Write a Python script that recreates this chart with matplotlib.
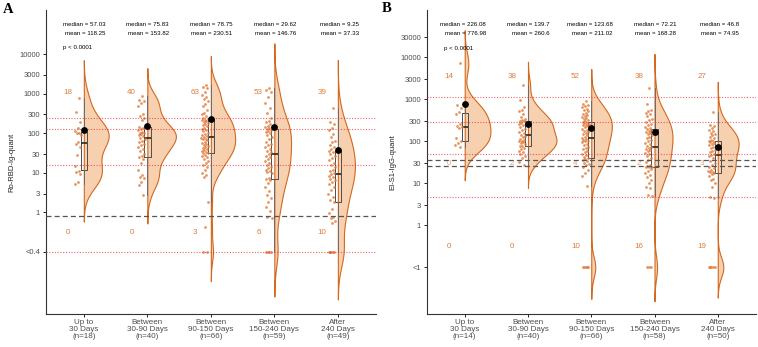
import numpy as np
import matplotlib.pyplot as plt

plt.rcParams['font.family'] = ['Liberation Sans', 'DejaVu Sans']

groups = ["Up to\n30 Days", "Between\n30-90 Days", "Between\n90-150 Days",
          "Between\n150-240 Days", "After\n240 Days"]

# --- Panel A: Ro-RBD-Ig-quant (values under 0.4 are drawn at 0.1) ---
a_n = [18, 40, 66, 59, 49]
a_top_counts = [18, 40, 63, 53, 39]
a_bottom_counts = [0, 0, 3, 6, 10]
a_medians = [57.03, 75.83, 78.75, 29.62, 9.25]
a_means = [118.25, 153.82, 230.51, 146.76, 37.33]
a_g1 = [800, 350, 190, 140, 112, 105, 100, 90, 60, 54, 46, 28, 15, 11, 10.3, 9.2, 6, 5.2]
a_g2 = [870, 700, 640, 600, 500, 300, 280, 250, 220, 145, 140, 130, 120, 110, 105,
        100, 95, 90, 85, 78, 74, 65, 60, 55, 50, 45, 40, 35, 30, 26, 25, 22, 18, 12,
        8.8, 8, 7.4, 6, 5, 2.7]
a_g3 = [1650, 1500, 1400, 1100, 950, 850, 760, 650, 560, 480, 386, 330, 300, 270, 250,
        235, 222, 215, 205, 195, 185, 170, 160, 150, 140, 130, 120, 112, 105, 98, 92,
        86, 81, 77, 74, 70, 66, 62, 58, 55, 52, 49, 46, 43, 40, 38, 36, 34, 32, 31,
        29, 27, 25, 22, 20, 18, 16, 14, 12, 10, 8.7, 8, 1.86, 0.42, 0.1, 0.1]
a_g4 = [1400, 1250, 1100, 850, 600, 450, 320, 240, 210, 190, 170, 155, 145, 135, 128,
        124, 118, 110, 100, 90, 80, 70, 62, 55, 50, 45, 40, 36, 33, 29.6, 27, 25, 22,
        20, 18, 16, 14, 13, 12, 11, 10.5, 9.9, 7.4, 7, 6.6, 5.5, 4.4, 3.5, 2.7, 2.3,
        1.8, 1.4, 1.1, 0.75, 0.72, 0.1, 0.1, 0.1, 0.1]
a_g5 = [450, 190, 170, 140, 120, 95, 80, 65, 60, 50, 45, 40, 36, 34, 30, 27, 24, 21,
        18, 16, 14, 12, 11, 10, 9.25, 8.5, 7.8, 7, 6.6, 6, 5.2, 4.4, 3.6, 3, 2.4, 2,
        1.8, 1.2, 0.94, 0.75, 0.7, 0.6, 0.55, 0.1, 0.1, 0.1, 0.1, 0.1, 0.1]
a_red_lines = [244, 126, 15.7, 0.1]
a_grey_lines = [0.8]
a_ticks = [0.1, 1, 3, 10, 30, 100, 300, 1000, 3000, 10000]
a_tick_labels = ["<0.4", "1", "3", "10", "30", "100", "300", "1000", "3000", "10000"]

# --- Panel B: EI-S1-IgG-quant (values under 1 are drawn at 0.1) ---
b_n = [14, 40, 66, 58, 50]
b_top_counts = [14, 38, 52, 38, 27]
b_mid_counts = [0, 2, 4, 2, 3]
b_bottom_counts = [0, 0, 10, 16, 19]
b_medians = [226.08, 139.7, 123.68, 72.21, 46.8]
b_means = [776.98, 260.6, 211.02, 168.28, 74.95]
b_g1 = [7200, 730, 620, 500, 450, 260, 235, 217, 210, 120, 100, 90, 81, 74]
b_g2 = [2250, 950, 650, 560, 520, 450, 380, 340, 320, 305, 300, 280, 260, 240, 220,
        200, 185, 170, 160, 145, 135, 125, 115, 110, 105, 100, 95, 90, 85, 78, 76, 70,
        65, 60, 55, 50, 45, 40, 32, 27]
b_g3 = [940, 800, 750, 700, 650, 600, 560, 520, 480, 450, 420, 400, 380, 360, 340, 320,
        300, 290, 280, 270, 260, 250, 240, 230, 215, 200, 190, 180, 170, 160, 150, 140,
        128, 120, 115, 110, 105, 100, 95, 88, 80, 75, 70, 65, 60, 55, 50, 47, 43, 40,
        38, 36, 34, 31, 29, 27, 24, 21, 18, 15, 8.6, 0.1, 0.1, 0.1, 0.1, 0.1]
b_g4 = [1900, 800, 560, 520, 485, 450, 400, 350, 320, 290, 260, 240, 220, 205, 196,
        190, 180, 170, 160, 150, 140, 130, 120, 110, 100, 92, 85, 78, 74, 70, 66, 62,
        58, 54, 50, 45, 41, 37, 33, 28, 25.5, 25.2, 25, 24, 22, 20, 18, 16, 14, 12, 10,
        8.3, 7.6, 5.2, 5, 0.1, 0.1, 0.1]
b_g5 = [500, 250, 230, 210, 190, 175, 160, 150, 140, 130, 120, 110, 105, 102, 98, 92,
        86, 80, 75, 70, 64, 60, 55, 50, 48, 45.6, 40, 34, 30, 27, 25, 23, 21, 20, 19,
        18.5, 18, 17, 15, 13, 12, 10, 8.3, 4.8, 4.4, 0.1, 0.1, 0.1, 0.1, 0.1]
b_red_lines = [1150, 288, 50.7, 4.7]
b_grey_lines = [35.2, 25.6]
b_ticks = [0.1, 1, 3, 10, 30, 100, 300, 1000, 3000, 10000, 30000]
b_tick_labels = ["<1", "1", "3", "10", "30", "100", "300", "1000", "3000", "10000", "30000"]

ORANGE = "#E07B39"
EDGE = "#D2691E"
FILL = "#F7D0B0"


def density(logv):
    # gaussian kde, bandwidth like R's bw.nrd0, tails cut at 3*bw
    n = len(logv)
    sd = np.std(logv, ddof=1)
    q1, q3 = np.percentile(logv, [25, 75])
    bw = 0.9 * min(sd, (q3 - q1) / 1.34) * n ** -0.2
    grid = np.linspace(logv.min() - 3 * bw, logv.max() + 3 * bw, 512)
    z = (grid[:, None] - logv[None, :]) / bw
    dens = np.exp(-0.5 * z ** 2).sum(axis=1) / (n * bw * np.sqrt(2 * np.pi))
    return grid, dens


def draw_panel(ax, data, n_list, medians, means, top_counts, mid_counts, bottom_counts,
               red_lines, grey_lines, ticks, tick_labels, ylim, ylabel, p_y):
    positions = np.arange(1, len(data) + 1)
    logs = [np.log10(np.array(v, dtype=float)) for v in data]

    # half violins, same area scaling for all groups
    kdes = [density(lv) for lv in logs]
    dmax = max(d.max() for _, d in kdes)
    for pos, (grid, dens) in zip(positions, kdes):
        ax.fill_betweenx(grid, pos, pos + dens / dmax * 0.45, facecolor=FILL,
                         edgecolor=EDGE, linewidth=0.8, zorder=1)

    # boxes
    ax.boxplot(logs, positions=positions, widths=0.1, showfliers=False,
               patch_artist=False, manage_ticks=False, zorder=2,
               boxprops=dict(color="#4d4d4d", linewidth=0.7),
               whiskerprops=dict(color="#6b6b6b", linewidth=0.7),
               capprops=dict(linewidth=0),
               medianprops=dict(color="#333333", linewidth=1.3))

    # jittered raw points, left of the box
    for pos, lv in zip(positions, logs):
        k = np.arange(1, len(lv) + 1)
        off = -0.095 + 0.055 * (2 * ((k * 0.6180339) % 1) - 1)
        ax.scatter(pos + off, lv, s=4, color=ORANGE, alpha=0.8, linewidths=0, zorder=3)

    for v in red_lines:
        ax.axhline(np.log10(v), color="#E8323C", linestyle=(0, (1, 1.5)),
                   linewidth=0.8, alpha=0.75, zorder=4)
    for v in grey_lines:
        ax.axhline(np.log10(v), color="#555555", linestyle=(0, (4, 2.5)),
                   linewidth=0.9, zorder=4)

    ax.scatter(positions, np.log10(means), s=15, color="black", zorder=5)

    tr = ax.get_xaxis_transform()
    for pos, med, mn in zip(positions, medians, means):
        ax.text(pos + 0.34, 0.951, f"median = {med:g}", transform=tr, ha="right",
                va="center", fontsize=4.4)
        ax.text(pos + 0.34, 0.922, f"mean = {mn:g}", transform=tr, ha="right",
                va="center", fontsize=4.4)
    ax.text(positions[0] - 0.33, p_y, "p < 0.0001", transform=tr, ha="left",
            va="center", fontsize=4.4)

    # group counts: above / between / below the cut-offs
    for pos, c in zip(positions, top_counts):
        ax.text(pos - 0.25, ylim[2], str(c), ha="center", va="center",
                fontsize=5.8, color=ORANGE, zorder=3)
    if mid_counts is not None:
        for pos, c in zip(positions, mid_counts):
            ax.text(pos - 0.25, np.log10(30), str(c), ha="center", va="center",
                    fontsize=5.8, color="#EFA070", zorder=3)
    for pos, c in zip(positions, bottom_counts):
        ax.text(pos - 0.25, -0.51, str(c), ha="center", va="center",
                fontsize=5.8, color=ORANGE, zorder=3)

    ax.set_xlim(0.4, 5.6)
    ax.set_ylim(ylim[0], ylim[1])
    ax.set_yticks(np.log10(ticks))
    ax.set_yticklabels(tick_labels)
    ax.set_xticks(positions)
    ax.set_xticklabels([f"{g}\n(n={n})" for g, n in zip(groups, n_list)],
                       linespacing=0.95)
    ax.set_ylabel(ylabel, fontsize=5.5, color="#222222", labelpad=3)
    ax.tick_params(axis="y", labelsize=5.5, labelcolor="#4d4d4d", length=2.5,
                   width=0.6, pad=1.5)
    ax.tick_params(axis="x", labelsize=5.8, labelcolor="#4d4d4d", length=2.5,
                   width=0.6, pad=1)
    for side in ["top", "right"]:
        ax.spines[side].set_visible(False)
    for side in ["left", "bottom"]:
        ax.spines[side].set_color("#333333")
        ax.spines[side].set_linewidth(0.8)


fig = plt.figure(figsize=(7.58, 3.47), dpi=100)
axA = fig.add_axes([0.0603, 0.0942, 0.4357, 0.8768])
axB = fig.add_axes([0.563, 0.0942, 0.434, 0.8768])

draw_panel(axA, [a_g1, a_g2, a_g3, a_g4, a_g5], a_n, a_medians, a_means,
           a_top_counts, None, a_bottom_counts, a_red_lines, a_grey_lines,
           a_ticks, a_tick_labels, (-2.58, 5.12, 3.04), "Ro-RBD-Ig-quant", 0.878)
draw_panel(axB, [b_g1, b_g2, b_g3, b_g4, b_g5], b_n, b_medians, b_means,
           b_top_counts, b_mid_counts, b_bottom_counts, b_red_lines, b_grey_lines,
           b_ticks, b_tick_labels, (-2.12, 5.13, 3.55), "EI-S1-IgG-quant", 0.873)

fig.text(0.004, 0.99, "A", fontsize=10.5, fontweight="bold", family="Liberation Serif",
         va="top", ha="left")
fig.text(0.504, 0.995, "B", fontsize=10.5, fontweight="bold", family="Liberation Serif",
         va="top", ha="left")

fig.savefig("out.png", dpi=100)
